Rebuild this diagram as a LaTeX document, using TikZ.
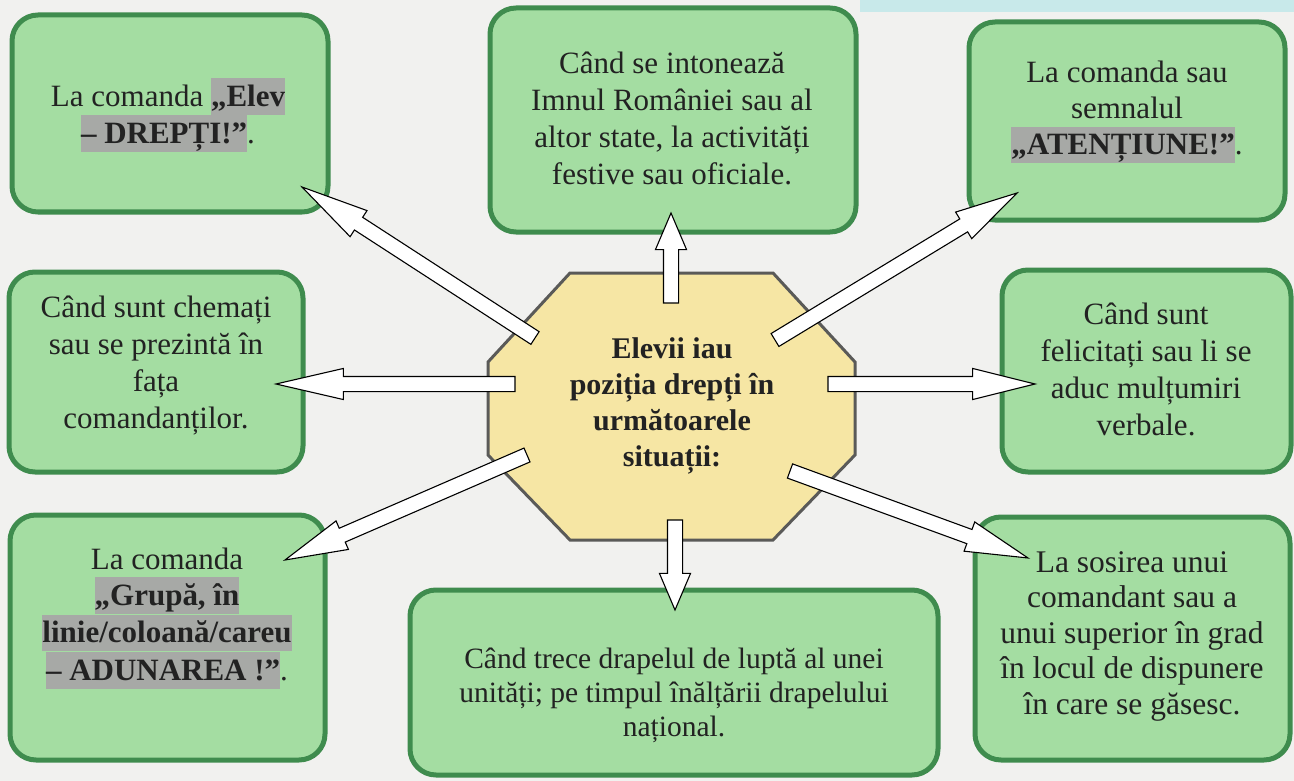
\documentclass[tikz,border=0pt]{standalone}
\usepackage{fontspec}
\setmainfont{Liberation Serif}
\usetikzlibrary{shapes.arrows,calc}
\definecolor{bgc}{HTML}{F1F1EF}
\definecolor{bandc}{HTML}{C8E9EA}
\definecolor{boxfill}{HTML}{A4DDA2}
\definecolor{boxline}{HTML}{3F8C4E}
\definecolor{octfill}{HTML}{F6E6A4}
\definecolor{octline}{HTML}{5A5A58}
\definecolor{hlgray}{HTML}{A7A9A6}
\definecolor{txtc}{HTML}{222222}
\newcommand\hlt[1]{{\setlength{\fboxsep}{0pt}\colorbox{hlgray}{\rule[-8.5pt]{0pt}{36.5pt}\textbf{#1}}}}
\tikzset{
  greenbox/.style={draw=boxline, fill=boxfill, line width=5pt, rounded corners=26pt, inner sep=0pt, outer sep=0pt},
  boxtext/.style={align=center, font=\fontsize{31}{37}\selectfont, text=txtc, inner sep=0pt},
  centertext/.style={align=center, font=\bfseries\fontsize{30}{36}\selectfont, text=txtc, inner sep=0pt},
  blockarrow/.style={single arrow, draw=black, fill=white, line width=1.1pt, inner sep=7pt, outer sep=0pt,
     single arrow head extend=8pt, minimum width=0pt},
}
\begin{document}
\begin{tikzpicture}[x=1pt,y=-1pt]
\useasboundingbox (0,0) rectangle (1294,781);
\fill[bgc] (0,0) rectangle (1294,781);
\fill[bandc] (860,0) rectangle (1294,12);

% boxes
\node[greenbox, minimum width=316pt, minimum height=197pt] (tl) at (170,113.5) {};
\node[greenbox, minimum width=366pt, minimum height=224pt] (tc) at (673,120) {};
\node[greenbox, minimum width=316pt, minimum height=198pt] (tr) at (1127,121) {};
\node[greenbox, minimum width=294pt, minimum height=200pt] (ml) at (156,372) {};
\node[greenbox, minimum width=289pt, minimum height=202pt] (mr) at (1146.5,371) {};
\node[greenbox, minimum width=315pt, minimum height=245pt] (bl) at (167.5,637.5) {};
\node[greenbox, minimum width=528pt, minimum height=185pt] (bc) at (674,682.5) {};
\node[greenbox, minimum width=315pt, minimum height=243pt] (br) at (1132.5,638.5) {};

% octagon
\draw[fill=octfill, draw=octline, line width=3pt, line join=miter]
  (570,273) -- (773,273) -- (855,362) -- (855,455) -- (773,540) -- (570,540) -- (488,455) -- (488,362) -- cycle;
\node[centertext] (ctr) at (672,406) {Elevii iau\\poziția drepți în\\următoarele\\situații:};

% arrow end points
\coordinate (s1) at (535,338);  \coordinate (t1) at (302,187);
\coordinate (s2) at (671,303);  \coordinate (t2) at (671,213);
\coordinate (s3) at (775,340);  \coordinate (t3) at (1017,193);
\coordinate (s4) at (515,384);  \coordinate (t4) at (276,384);
\coordinate (s5) at (828,384);  \coordinate (t5) at (1035,384);
\coordinate (s6) at (527,455);  \coordinate (t6) at (285,560);
\coordinate (s7) at (675,520);  \coordinate (t7) at (675,610);
\coordinate (s8) at (790,471);  \coordinate (t8) at (1028,558);

\foreach \s/\t/\ang in {s1/t1/26, s2/t2/46, s3/t3/28, s4/t4/26, s5/t5/28, s6/t6/28, s7/t7/46, s8/t8/28}{
  \path let \p1=(\s), \p2=(\t), \n1={atan2(\y2-\y1,\x2-\x1)}, \n2={veclen(\x2-\x1,\y2-\y1)} in
    node[blockarrow, single arrow tip angle=\ang, minimum height=\n2, rotate=\n1, anchor=tail] at (\p1) {};
}

% texts
\node[boxtext] (tlt) at (168,115) {La comanda \hlt{„Elev}\\\hlt{– DREPȚI!”}.};
\node[boxtext] (tct) at (672,118) {Când se intonează\\Imnul României sau al\\altor state, la activități\\festive sau oficiale.};
\node[boxtext, font=\fontsize{31}{36}\selectfont] (trt) at (1127,112) {La comanda sau\\semnalul\\\hlt{„ATENȚIUNE!”}.};
\node[boxtext] (mlt) at (156,366) {Când sunt chemați\\sau se prezintă în\\fața\\comandanților.};
\node[boxtext] (mrt) at (1146,369) {Când sunt\\felicitați sau li se\\aduc mulțumiri\\verbale.};
\node[boxtext, font=\fontsize{31}{36}\selectfont] (blt) at (167,618) {La comanda\\\hlt{„Grupă, în}\\\hlt{linie/coloană/careu}\\\hlt{– ADUNAREA !”}.};
\node[boxtext, font=\fontsize{29.5}{34}\selectfont] (bct) at (674,695) {Când trece drapelul de luptă al unei\\unități; pe timpul înălțării drapelului\\național.};
\node[boxtext, font=\fontsize{31.5}{35.5}\selectfont] (brt) at (1132,636) {La sosirea unui\\comandant sau a\\unui superior în grad\\în locul de dispunere\\în care se găsesc.};
\end{tikzpicture}
\end{document}
